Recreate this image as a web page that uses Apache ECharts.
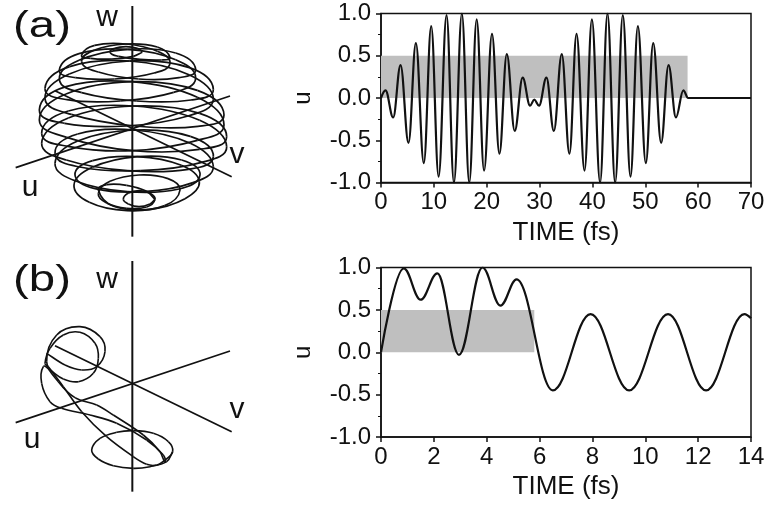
<!DOCTYPE html>
<html><head><meta charset="utf-8">
<style>html,body{margin:0;padding:0;background:#fff}#c{width:769px;height:507px;filter:blur(0.45px)}</style>
<script src="https://cdn.jsdelivr.net/npm/echarts@6/dist/echarts.min.js"></script>
</head><body><div id="c"></div>
<script>
// Panel (a) time trace: extrema [fs, u]
const traceA = [[0,0],[0.85,0.09],[2.3,-0.23],[3.7,0.39],[5.2,-0.53],[6.6,0.65],[8.1,-0.77],[9.5,0.85],[10.9,-0.93],[12.4,0.98],[13.8,-1],[15.3,1],[16.7,-1],[18.1,0.93],[19.5,-0.86],[21,0.76],[22.4,-0.66],[23.8,0.52],[25.3,-0.39],[26.8,0.24],[28.2,-0.09],[29,-0.02],[29.9,-0.09],[31.3,0.24],[32.7,-0.39],[34.2,0.52],[35.65,-0.66],[37,0.76],[38.5,-0.86],[39.9,0.93],[41.45,-1],[42.85,1],[44.3,-1],[45.75,0.98],[47.2,-0.93],[48.6,0.85],[50.1,-0.77],[51.5,0.65],[53,-0.53],[54.4,0.39],[55.8,-0.23],[57.2,0.09],[58.1,0],[70,0]];
// Panel (b) time trace
const traceB = [[0,0],[0.86,0.99],[1.5,0.62],[2.13,0.93],[2.95,-0.03],[3.84,1],[4.52,0.55],[5.13,0.86],[6.5,-0.45],[7.93,0.45],[9.39,-0.45],[10.86,0.45],[12.3,-0.45],[13.75,0.45],[14,0.4]];
const shadeA = [58,0.5];
const shadeB = [5.8,0.5];
const xMaxA = 70, xMaxB = 14, xStepA = 10, xStepB = 2;
const yTicks = [-1,-0.5,0,0.5,1];
// Projected diagram: read-off positions in diagram units
const axisW = [[397,18],[397,710]];
const axisU = [[47,503],[690,288]];
const axisV = [[165,272],[695,530]];
const sphereDown = [[427,155],[412,145],[378,140],[344,145],[330,157],[356,169],[420,178],[484,180],[510,172],[472,141],[378,132],[284,150],[245,185],[295,216],[416,237],[537,233],[587,208],[527,159],[382,148],[237,181],[178,238],[245,278],[409,303],[573,300],[640,268],[568,203],[388,183],[208,222],[135,295],[214,343],[404,378],[594,379],[672,345],[592,271],[395,245],[198,282],[118,360],[200,412],[399,452],[598,448],[680,410],[599,340],[402,318],[205,354],[125,430],[199,480],[382,512],[565,508],[640,470],[571,409],[402,390],[233,423],[165,490],[227,543],[382,575],[537,567],[600,525],[545,480],[411,470],[277,502],[222,555],[268,607],[381,632],[494,617],[540,570],[504,536],[417,525],[330,544],[295,580],[320,609],[380,625],[440,621],[465,598],[450,580],[417,572],[384,580],[370,598],[385,612],[417,620],[450,612],[465,598]];
const sphereUp = [[465,598],[440,574],[380,556],[320,554],[295,570],[339,618],[447,628],[555,596],[598,545],[544,496],[411,470],[278,482],[225,525],[285,566],[432,575],[579,548],[640,500],[571,430],[402,390],[233,402],[165,460],[239,501],[422,512],[605,487],[680,440],[599,361],[402,318],[205,333],[125,400],[204,439],[398,452],[592,421],[672,375],[592,292],[395,245],[198,260],[118,330],[194,370],[379,378],[564,348],[640,298],[567,224],[388,183],[209,200],[135,265],[201,299],[361,303],[521,277],[587,235],[527,179],[382,148],[237,161],[178,210],[226,233],[344,237],[462,219],[510,190],[472,154],[378,132],[284,136],[245,165],[272,175],[336,177],[400,169],[427,157]];
const loopB = [[518,590],[500,620],[450,635],[400,640],[340,632],[295,612],[275,585],[300,550],[350,532],[400,527],[460,535],[505,560],[518,590],[495,615],[470,630],[440,628],[400,605],[320,545],[245,470],[190,395],[145,335],[135,325],[150,280],[190,240],[240,232],[285,265],[295,310],[280,355],[235,380],[190,372],[150,345],[130,335],[125,385],[150,440],[185,460],[270,480],[350,505],[440,555],[490,600],[495,620],[480,590],[430,540],[340,480],[290,450],[225,428],[175,380],[140,320],[170,240],[240,215],[300,245],[315,290],[290,335],[245,345],[195,330],[140,295]];

const ink = '#111';
const font = 'Liberation Sans';
function plotAxes(i, step, max){
  return {
    x:{gridIndex:i,type:'value',min:0,max:max,interval:step,name:'TIME (fs)',nameLocation:'middle',nameGap:37,
       nameTextStyle:{color:ink,fontSize:26,fontFamily:font},
       axisLine:{onZero:false,lineStyle:{color:ink,width:1.5}},axisTick:{length:5,lineStyle:{color:ink,width:1.5}},
       axisLabel:{color:ink,fontSize:24,fontFamily:font,margin:8,hideOverlap:false},splitLine:{show:false}},
    y:{gridIndex:i,type:'value',min:-1,max:1,interval:0.5,name:'u',nameLocation:'middle',nameGap:66,nameRotate:90,
       nameTextStyle:{color:ink,fontSize:24,fontFamily:font},
       axisLine:{onZero:false,lineStyle:{color:ink,width:1.5}},axisTick:{length:5,lineStyle:{color:ink,width:1.5}},
       minorTick:{show:true,splitNumber:2,length:3,lineStyle:{color:ink,width:1}},
       axisLabel:{color:ink,fontSize:24,fontFamily:font,margin:10,formatter:v=>yTicks.includes(v)?v.toFixed(1):''},splitLine:{show:false}}
  };
}
function hiddenAxes(i){
  return {x:{gridIndex:i,type:'value',min:0,max:750,show:false},
          y:{gridIndex:i,type:'value',min:0,max:750,inverse:true,show:false}};
}
const p0=plotAxes(0,xStepA,xMaxA), p1=plotAxes(1,xStepB,xMaxB), h0=hiddenAxes(2), h1=hiddenAxes(3);
function timeSeries(i,data,shade){
  return {type:'line',xAxisIndex:i,yAxisIndex:i,data:data,showSymbol:false,smooth:0.38,smoothMonotone:'x',
    lineStyle:{color:ink,width:2.2},z:3,
    markArea:{silent:true,itemStyle:{color:'#bfbfbf'},data:[[{xAxis:0,yAxis:0},{xAxis:shade[0],yAxis:shade[1]}]]}};
}
function straight(i,data,width){
  return {type:'line',xAxisIndex:i,yAxisIndex:i,data:data,showSymbol:false,lineStyle:{color:ink,width:width},z:3};
}
// Smooth trajectory: one Bezier per data segment, placed through the axes with api.coord
function curve(i,points,width){
  const K = 0.35;
  return {type:'custom',xAxisIndex:i,yAxisIndex:i,coordinateSystem:'cartesian2d',data:points,z:4,silent:true,clip:false,
    encode:{x:0,y:1},
    renderItem(params,api){
      const n = points.length, k = params.dataIndex;
      if(k >= n-1) return null;
      const P = j => api.coord(points[Math.max(0,Math.min(n-1,j))]);
      const a=P(k-1), b=P(k), c=P(k+1), d=P(k+2);
      const seg = Math.hypot(c[0]-b[0],c[1]-b[1]);
      const dir = (u,v)=>{const l=Math.hypot(v[0]-u[0],v[1]-u[1])||1;return [(v[0]-u[0])/l,(v[1]-u[1])/l];};
      const t1=dir(a,c), t2=dir(b,d);
      return {type:'bezierCurve',shape:{x1:b[0],y1:b[1],x2:c[0],y2:c[1],
          cpx1:b[0]+t1[0]*seg*K,cpy1:b[1]+t1[1]*seg*K,cpx2:c[0]-t2[0]*seg*K,cpy2:c[1]-t2[1]*seg*K},
        style:{stroke:ink,lineWidth:width,fill:null}};
    }};
}
function txt(s,x,y,size,sx){
  return {type:'text',x:x,y:y,scaleX:sx||1,originX:0,originY:0,z:10,
    style:{text:s,fill:ink,font:size+'px "Liberation Sans"',textAlign:'center',textVerticalAlign:'middle'}};
}
const chart = echarts.init(document.getElementById('c'),null,{renderer:'canvas'});
chart.setOption({
  animation:false,backgroundColor:'#fff',
  grid:[
    {left:381,top:13.5,width:370,height:169,show:true,borderColor:ink,borderWidth:1.5,backgroundColor:'transparent',outerBoundsMode:'none'},
    {left:381,top:267.5,width:370,height:169.5,show:true,borderColor:ink,borderWidth:1.5,backgroundColor:'transparent',outerBoundsMode:'none'},
    {left:0,top:0,width:250,height:250,outerBoundsMode:'none'},
    {left:0,top:255,width:250,height:250,outerBoundsMode:'none'}
  ],
  xAxis:[p0.x,p1.x,h0.x,h1.x],
  yAxis:[p0.y,p1.y,h0.y,h1.y],
  series:[
    timeSeries(0,traceA,shadeA),
    timeSeries(1,traceB,shadeB),
    straight(2,axisW,2),straight(2,axisU,1.7),straight(2,axisV,1.7),curve(2,sphereDown,1.7),curve(2,sphereUp,1.7),
    straight(3,axisW,2),straight(3,axisU,1.7),straight(3,axisV,1.7),curve(3,loopB,1.6)
  ],
  graphic:[
    txt('(a)',42,27,37,1.28),txt('(b)',42,281,37,1.28),
    txt('w',107,18,30),txt('w',107,280,30),
    txt('v',237,155,30),txt('v',237,410,30),
    txt('u',30,188,30),txt('u',32,440,30)
  ]
});
</script></body></html>
